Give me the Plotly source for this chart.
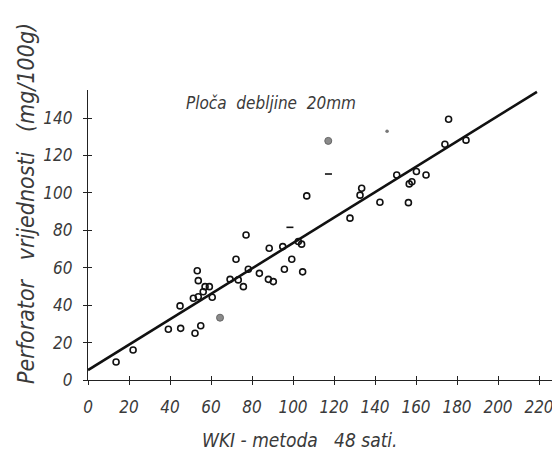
import plotly.graph_objects as go

# ---- data ----
x_ticks = [0, 20, 40, 60, 80, 100, 120, 140, 160, 180, 200, 220]
y_ticks = [0, 20, 40, 60, 80, 100, 120, 140]

open_x = [13.7, 22.0, 39.2, 45.2, 52.2, 55.0, 44.9, 51.4, 53.8, 56.2, 57.1, 59.2,
          60.6, 53.3, 53.8, 72.2, 69.3, 73.3, 75.8, 78.2, 77.1, 83.6, 88.0, 90.4,
          88.4, 95.0, 99.4, 95.8, 102.6, 104.2, 104.7, 106.7, 127.8, 133.5, 132.7,
          142.4, 150.6, 156.3, 156.7, 158.0, 160.2, 164.9, 174.1, 175.9, 184.4]
open_y = [9.6, 16.0, 27.1, 27.6, 25.0, 29.0, 39.6, 43.7, 44.5, 47.2, 49.9, 49.9,
          44.2, 58.4, 53.1, 64.5, 53.8, 53.5, 49.9, 59.2, 77.5, 57.0, 53.8, 52.6,
          70.4, 71.3, 64.5, 59.2, 74.0, 72.6, 57.8, 98.4, 86.5, 102.5, 98.8,
          95.0, 109.6, 94.8, 104.8, 106.0, 111.4, 109.6, 126.0, 139.4, 128.2]

gray_x = [64.4, 117.2]
gray_y = [33.3, 127.8]
small_gray_x = [145.9]
small_gray_y = [133.0]
dash_x = [98.5, 117.3]
dash_y = [81.6, 110.1]

line_x = [0, 219]
line_y = [5.3, 154.0]

title_text = "Ploča\u00a0\u00a0debljine\u00a0\u00a020mm"
x_title = "WKI\u00a0-\u00a0metoda\u00a0\u00a0\u00a048\u00a0sati."
y_title = "Perforator\u00a0\u00a0\u00a0vrijednosti\u00a0\u00a0\u00a0(mg/100g)"

font_fam = "DejaVu Sans Condensed, Liberation Sans Narrow, DejaVu Sans"
ink = "#3a3a3a"

# page body has an 8px margin: figure pixel = screen pixel - 8
W, H = 552, 446
ml, mr, mt, mb = 80, 0, 82, 74
pw, ph = W - ml - mr, H - mt - mb
OFF = 8


def px_x(sx):
    return (sx - OFF - ml) / pw


def px_y(sy):
    return (H - mb - (sy - OFF)) / ph


fig = go.Figure()

fig.add_trace(go.Scatter(x=line_x, y=line_y, mode="lines",
                         line=dict(color="#111111", width=2.6), hoverinfo="skip"))
fig.add_trace(go.Scatter(x=open_x, y=open_y, mode="markers",
                         marker=dict(symbol="circle-open", size=6, color="#111111",
                                     line=dict(color="#111111", width=1.6))))
fig.add_trace(go.Scatter(x=gray_x, y=gray_y, mode="markers",
                         marker=dict(symbol="circle", size=7, color="#8a8a8a",
                                     line=dict(color="#666666", width=1))))
fig.add_trace(go.Scatter(x=small_gray_x, y=small_gray_y, mode="markers",
                         marker=dict(symbol="circle", size=3.5, color="#777777")))
fig.add_trace(go.Scatter(x=dash_x, y=dash_y, mode="markers",
                         marker=dict(symbol="line-ew", size=5, color="#111111",
                                     line=dict(color="#111111", width=1.6))))
# invisible trace for the overlay axes (inner tick halves)
fig.add_trace(go.Scatter(x=[0], y=[0], xaxis="x2", yaxis="y2", mode="markers",
                         marker=dict(size=1, opacity=0), hoverinfo="skip"))

tick_font = dict(family=font_fam, size=17, color=ink, style="italic")
x_max = (560 - 88) / 2.05

fig.update_layout(
    width=W, height=H,
    margin=dict(l=ml, r=mr, t=mt, b=mb),
    paper_bgcolor="white", plot_bgcolor="white",
    showlegend=False,
    xaxis=dict(range=[0, x_max], tickvals=x_ticks, ticks="outside", ticklen=4,
               tickwidth=1.2, tickcolor="#222", showline=True, linecolor="#222",
               linewidth=1.4, showgrid=False, zeroline=False, tickfont=tick_font,
               ticklabelstandoff=7, automargin=False, ticklabeloverflow="allow"),
    yaxis=dict(range=[0, 155], tickvals=y_ticks, ticks="outside", ticklen=4,
               tickwidth=1.2, tickcolor="#222", showline=True, linecolor="#222",
               linewidth=1.4, showgrid=False, zeroline=False, tickfont=tick_font,
               ticklabelstandoff=7, automargin=False, ticklabeloverflow="allow"),
    xaxis2=dict(overlaying="x", matches="x", tickvals=x_ticks, ticks="inside",
                ticklen=4, tickwidth=1.2, tickcolor="#222", showticklabels=False,
                showgrid=False, zeroline=False, showline=False, side="bottom"),
    yaxis2=dict(overlaying="y", matches="y", tickvals=y_ticks, ticks="inside",
                ticklen=4, tickwidth=1.2, tickcolor="#222", showticklabels=False,
                showgrid=False, zeroline=False, showline=False, side="left"),
    annotations=[
        dict(x=89.5, y=148, xref="x", yref="y", text=title_text, showarrow=False,
             xanchor="center", yanchor="middle",
             font=dict(family=font_fam, size=17, color=ink, style="italic")),
        dict(x=px_x(300), y=px_y(440), xref="paper", yref="paper", text=x_title,
             showarrow=False, xanchor="center", yanchor="middle",
             font=dict(family=font_fam, size=19, color=ink, style="italic")),
        dict(x=px_x(26), y=px_y(204), xref="paper", yref="paper", text=y_title,
             showarrow=False, textangle=-90, xanchor="center", yanchor="middle",
             font=dict(family=font_fam, size=23, color=ink, style="italic")),
    ],
)

fig.write_html("out.html")
